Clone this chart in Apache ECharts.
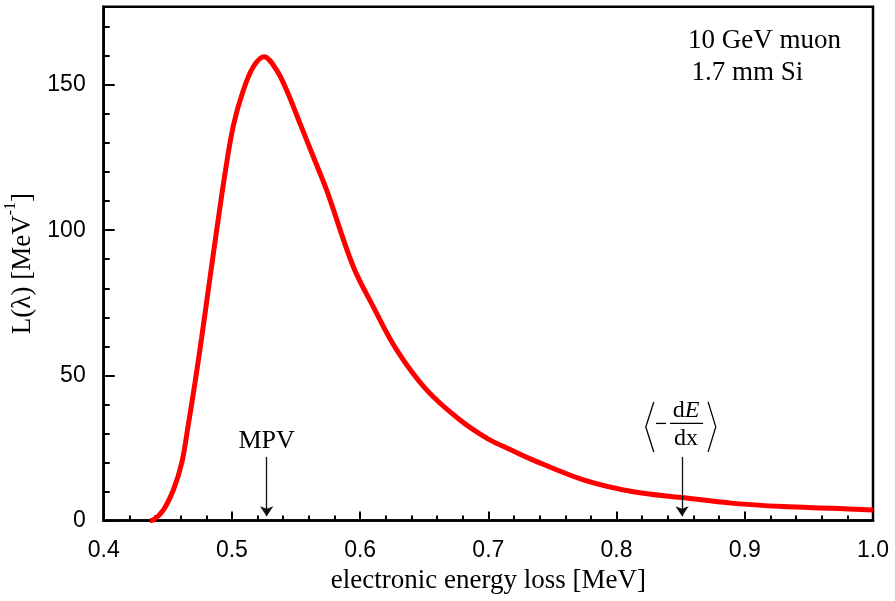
<!DOCTYPE html>
<html><head><meta charset="utf-8">
<script src="https://cdn.jsdelivr.net/npm/echarts@6/dist/echarts.min.js"></script>
<style>html,body{margin:0;padding:0;background:#fff}#c{width:895px;height:601px}</style>
</head><body><div id="c"></div>
<script>
// Energy loss (MeV)
const energyLoss = [0.4361,0.4387,0.4465,0.4543,0.4608,0.4660,0.4712,0.4764,0.4816,0.4878,0.4946,0.5011,0.5089,0.5167,0.5250,0.5349,0.5427,0.5531,0.5635,0.5739,0.5947,0.6103,0.6286,0.6520,0.6779,0.7000,0.7144,0.7351,0.7741,0.8131,0.8509,0.8911,0.9301,0.9691,1.0];
// L(lambda) [MeV^-1]
const density = [0,0.2,3.6,10.5,19.7,33.0,47.5,63.0,79.5,99.0,119.5,136.0,148.2,156.3,159.8,155.1,148.2,136.8,125.3,113.8,87.4,73.6,58.7,44.9,34.6,28.0,25.0,20.8,14.0,9.9,7.9,5.9,4.8,4.2,3.6];
const xTickValues = [0.4,0.5,0.6,0.7,0.8,0.9,1.0];
const yTickValues = [0,50,100,150];
const mpvX = 0.5271;
const meanLossX = 0.8511;
const arrowTop = 21.9, arrowTip = 1.5;
const infoLines = ['10 GeV muon','1.7 mm Si'];

const serif = '"Liberation Serif", "Times New Roman", serif';
const sans = '"Liberation Sans", Arial, sans-serif';
const chart = echarts.init(document.getElementById('c'), null, {renderer:'canvas'});
const axisCommon = {
  axisLine:{show:true,lineStyle:{color:'#000',width:2.5}},
  splitLine:{show:false}
};
const option = {
  animation:false,
  backgroundColor:'#fff',
  grid:{left:103.7,right:22,top:6.7,bottom:80.5,show:true,borderColor:'#000',borderWidth:2.5,containLabel:false,outerBoundsMode:'none'},
  xAxis:{
    type:'value',min:xTickValues[0],max:xTickValues[xTickValues.length-1],interval:0.1,
    ...axisCommon,
    axisTick:{show:true,inside:true,length:9,lineStyle:{color:'#000',width:2}},
    minorTick:{show:true,splitNumber:5,length:5,lineStyle:{color:'#000',width:2}},
    minorSplitLine:{show:false},
    axisLabel:{margin:19,color:'#000',fontFamily:sans,fontSize:23,formatter:v=>Number(v).toFixed(1)},
    name:'electronic energy loss [MeV]',nameLocation:'middle',nameGap:46.5,
    nameTextStyle:{fontFamily:serif,fontSize:27,color:'#000'}
  },
  yAxis:[{
    type:'value',min:0,max:177,interval:50,
    ...axisCommon,
    axisTick:{show:true,inside:true,length:11,lineStyle:{color:'#000',width:2}},
    axisLabel:{margin:18,color:'#000',fontFamily:sans,fontSize:23,showMaxLabel:false,
      formatter:v=>yTickValues.includes(v)?String(v):''},
    name:'{a|L(λ) [MeV}{sup|-1}{a|]}',nameLocation:'middle',nameGap:56,
    nameTextStyle:{color:'#000',rich:{
      a:{fontFamily:serif,fontSize:27,lineHeight:40,color:'#000'},
      sup:{fontFamily:serif,fontSize:16,lineHeight:18,verticalAlign:'top',color:'#000'}
    }}
  },{
    type:'value',min:0,max:177,interval:10,position:'left',
    axisLine:{show:false},splitLine:{show:false},
    axisTick:{show:true,inside:true,length:6,lineStyle:{color:'#000',width:2}},
    axisLabel:{show:false}
  }],
  series:[{
    type:'line',
    data:energyLoss.map((x,i)=>[x,density[i]]),
    showSymbol:false,smooth:0.35,
    lineStyle:{color:'#ff0000',width:5},
    silent:true,
    markLine:{
      silent:true,symbol:['none','arrow'],symbolSize:10,
      label:{show:false},
      lineStyle:{color:'#111',width:1.3,type:'solid'},
      emphasis:{disabled:true},
      data:[
        [{coord:[mpvX,arrowTop]},{coord:[mpvX,arrowTip]}],
        [{coord:[meanLossX,arrowTop]},{coord:[meanLossX,arrowTip]}]
      ]
    }
  }]
};
chart.setOption(option);

const toPx = (x,y)=>chart.convertToPixel({xAxisIndex:0,yAxisIndex:0},[x,y]);
const [mx,mTop] = toPx(mpvX,arrowTop);
const [dx,dTop] = toPx(meanLossX,arrowTop);
const txt = (text,x,y,size,align,extra)=>Object.assign({type:'text',silent:true,style:{
  text,x,y,fontFamily:serif,fontSize:size,fill:'#000',
  align:align,textAlign:align,verticalAlign:'middle',textVerticalAlign:'middle'}},extra||{});
const line = (pts,w)=>({type:'polyline',silent:true,shape:{points:pts},style:{stroke:'#000',lineWidth:w,fill:null}});

const graphics = [
  txt(infoLines[0],688,40.9,27,'left'),
  txt(infoLines[1],691.5,72.6,27,'left'),
  txt('MPV',mx,mTop-15.8,26,'center'),
  line([[dx-28.3,dTop-55],[dx-36.3,dTop-30],[dx-28.3,dTop-5]],1.3),
  line([[dx+26,dTop-55],[dx+33.7,dTop-30],[dx+26,dTop-5]],1.3),
  line([[dx-26,dTop-33.5],[dx-16,dTop-33.5]],1.3),
  line([[dx-12,dTop-33.5],[dx+21,dTop-33.5]],1.3),
  {type:'text',silent:true,style:{text:'{r|d}{i|E}',x:dx+4,y:dTop-46.1,align:'center',textAlign:'center',verticalAlign:'middle',textVerticalAlign:'middle',
    rich:{r:{fontFamily:serif,fontSize:24,fill:'#000',color:'#000'},i:{fontFamily:serif,fontSize:24,fontStyle:'italic',fill:'#000',color:'#000'}}}},
  txt('dx',dx+4,dTop-18.6,24,'center')
];
chart.setOption({graphic:{elements:graphics}});
</script>
</body></html>
